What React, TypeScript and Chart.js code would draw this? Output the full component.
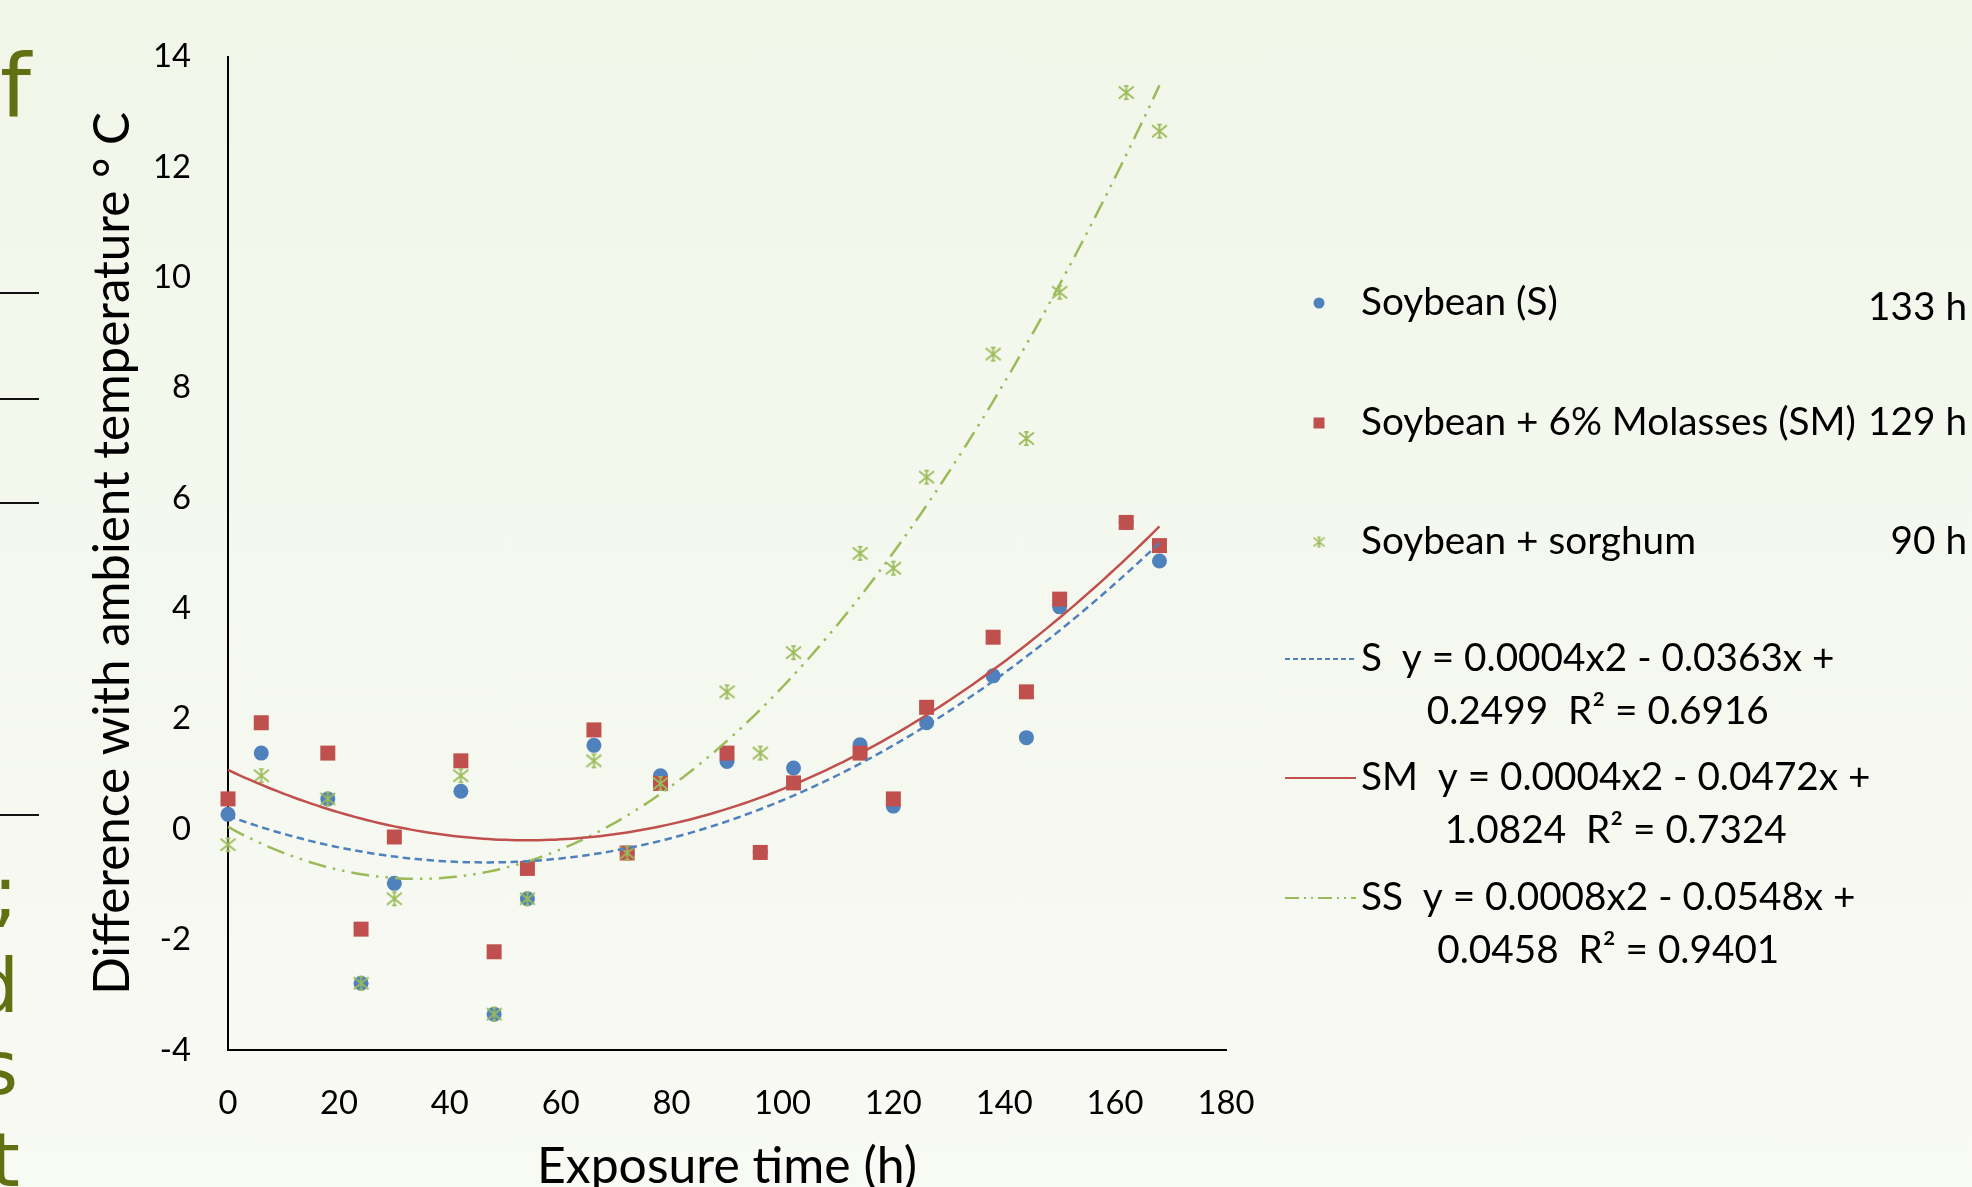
import React, { useEffect, useRef } from "react";
import { Chart, registerables } from "chart.js";

Chart.register(...registerables);

// ---------- data ----------
const HOURS = [0, 6, 18, 24, 30, 42, 48, 54, 66, 72, 78, 90, 96, 102, 114, 120, 126, 138, 144, 150, 162, 168];
const SOYBEAN_S = [0.27, 1.38, 0.55, -2.79, -0.98, 0.69, -3.35, -1.26, 1.52, -0.43, 0.97, 1.23, -0.42, 1.11, 1.53, 0.42, 1.93, 2.78, 1.66, 4.03, 5.56, 4.86];
const SOYBEAN_SM = [0.55, 1.93, 1.38, -1.81, -0.14, 1.24, -2.22, -0.71, 1.8, -0.43, 0.83, 1.38, -0.42, 0.84, 1.38, 0.55, 2.21, 3.48, 2.49, 4.17, 5.56, 5.14];
const SOYBEAN_SS = [-0.28, 0.97, 0.55, -2.79, -1.26, 0.97, -3.35, -1.26, 1.24, -0.43, 0.83, 2.49, 1.38, 3.2, 5.0, 4.73, 6.38, 8.61, 7.08, 9.73, 13.35, 12.65];

const X_MIN = 0;
const X_MAX = 180;
const X_STEP = 20;
const Y_MIN = -4;
const Y_MAX = 14;
const Y_STEP = 2;

const SERIES_LABELS = ["Soybean (S)", "Soybean + 6% Molasses (SM)", "Soybean + sorghum"];
const SERIES_HOURS = ["133 h", "129 h", "90 h"];
const TREND_LINE1 = ["S  y = 0.0004x2 - 0.0363x +", "SM  y = 0.0004x2 - 0.0472x +", "SS  y = 0.0008x2 - 0.0548x +"];
const TREND_LINE2 = ["0.2499  R\u00B2 = 0.6916", "1.0824  R\u00B2 = 0.7324", "0.0458  R\u00B2 = 0.9401"];

const X_TITLE = "Exposure time (h)";
const Y_TITLE = "Difference with ambient temperature \u00B0 C";

// ---------- styling ----------
const PAGE_W = 1972;
const PAGE_H = 1187;
const CANVAS_H = 1240;
const BLUE = "#4F81BD";
const RED = "#C0504D";
const GREEN = "#9BBB59";
const FONT = "Lato, 'Open Sans', sans-serif";
const OLIVE = "#627014";

function fitFont(text: string, width: number): number {
  const c = document.createElement("canvas").getContext("2d")!;
  c.font = `100px ${FONT}`;
  return (100 * width) / c.measureText(text).width;
}

function quadFit(xs: number[], ys: number[]): [number, number, number] {
  let s0 = 0, s1 = 0, s2 = 0, s3 = 0, s4 = 0, t0 = 0, t1 = 0, t2 = 0;
  xs.forEach((x, i) => {
    const y = ys[i];
    s0 += 1; s1 += x; s2 += x * x; s3 += x * x * x; s4 += x * x * x * x;
    t0 += y; t1 += x * y; t2 += x * x * y;
  });
  const M = [
    [s0, s1, s2, t0],
    [s1, s2, s3, t1],
    [s2, s3, s4, t2],
  ];
  for (let i = 0; i < 3; i++) {
    let p = i;
    for (let r = i + 1; r < 3; r++) if (Math.abs(M[r][i]) > Math.abs(M[p][i])) p = r;
    [M[i], M[p]] = [M[p], M[i]];
    for (let r = 0; r < 3; r++) {
      if (r === i) continue;
      const f = M[r][i] / M[i][i];
      for (let k = i; k < 4; k++) M[r][k] -= f * M[i][k];
    }
  }
  const c = M[0][3] / M[0][0];
  const b = M[1][3] / M[1][1];
  const a = M[2][3] / M[2][2];
  return [a, b, c];
}

function makeStar(size: number, color: string, lw: number): HTMLCanvasElement {
  const cv = document.createElement("canvas");
  cv.width = size;
  cv.height = size;
  const g = cv.getContext("2d")!;
  g.strokeStyle = color;
  g.lineWidth = lw;
  g.lineCap = "butt";
  const m = size / 2;
  const r = size / 2 - 1;
  g.beginPath();
  g.moveTo(m, m - r); g.lineTo(m, m + r);
  g.moveTo(m - r, m - r * 0.8); g.lineTo(m + r, m + r * 0.8);
  g.moveTo(m + r, m - r * 0.8); g.lineTo(m - r, m + r * 0.8);
  g.moveTo(m - r * 0.3, m - r + lw / 2); g.lineTo(m + r * 0.3, m - r + lw / 2);
  g.moveTo(m - r * 0.3, m + r - lw / 2); g.lineTo(m + r * 0.3, m + r - lw / 2);
  g.stroke();
  return cv;
}

const DASH_S = [7.5, 4.5];
const DASH_SS = [18, 7, 2.5, 7, 2.5, 7];

export default function App() {
  const ref = useRef<HTMLCanvasElement>(null);

  useEffect(() => {
    const canvas = ref.current!;
    const tickSize = fitFont("100", 57);
    const xTitleSize = fitFont(X_TITLE, 380);
    const yTitleSize = fitFont(Y_TITLE, 883);
    const legendSize = fitFont(SERIES_LABELS[1], 495);
    const star = makeStar(17, GREEN, 1.8);
    const starSmall = makeStar(13, GREEN, 1.5);

    const series = [SOYBEAN_S, SOYBEAN_SM, SOYBEAN_SS];
    const fits = series.map((ys) => quadFit(HOURS, ys));
    const xs: number[] = [];
    for (let x = HOURS[0]; x <= HOURS[HOURS.length - 1]; x += 1) xs.push(x);
    const trend = fits.map(([a, b, c]) => xs.map((x) => ({ x, y: a * x * x + b * x + c })));
    const pts = (ys: number[]) => HOURS.map((x, i) => ({ x, y: ys[i] }));

    const legendPlugin = {
      id: "customLegend",
      afterDraw(chart: any) {
        const ctx: CanvasRenderingContext2D = chart.ctx;
        ctx.save();
        const markX = 1319;
        const textX = 1361;
        const rightX = 1967;
        const rowY = [303, 423, 542];
        const hourDy = [5, 0, 0];
        ctx.font = `${legendSize}px ${FONT}`;
        ctx.textBaseline = "middle";
        ctx.fillStyle = BLUE;
        ctx.beginPath();
        ctx.arc(markX, rowY[0], 5.5, 0, Math.PI * 2);
        ctx.fill();
        ctx.fillStyle = RED;
        ctx.fillRect(markX - 5.5, rowY[1] - 5.5, 11, 11);
        ctx.drawImage(starSmall, markX - 6.5, rowY[2] - 6.5);
        ctx.fillStyle = "#000";
        for (let i = 0; i < 3; i++) {
          ctx.textAlign = "left";
          ctx.fillText(SERIES_LABELS[i], textX, rowY[i]);
          ctx.textAlign = "right";
          ctx.fillText(SERIES_HOURS[i], rightX, rowY[i] + hourDy[i]);
        }
        const trendY = [659, 778, 898];
        const colors = [BLUE, RED, GREEN];
        const dashes = [[5, 3], [], [14, 5, 2, 5, 2, 5]];
        for (let i = 0; i < 3; i++) {
          ctx.strokeStyle = colors[i];
          ctx.lineWidth = 2;
          ctx.setLineDash(dashes[i]);
          ctx.beginPath();
          ctx.moveTo(1285, trendY[i]);
          ctx.lineTo(1356, trendY[i]);
          ctx.stroke();
          ctx.setLineDash([]);
          ctx.fillStyle = "#000";
          ctx.textAlign = "left";
          ctx.fillText(TREND_LINE1[i], textX, trendY[i]);
          const w = ctx.measureText(TREND_LINE1[i]).width;
          ctx.textAlign = "center";
          ctx.fillText(TREND_LINE2[i], textX + w / 2, trendY[i] + 53);
        }
        ctx.restore();
      },
    };

    const chart = new Chart(canvas, {
      type: "scatter",
      data: {
        datasets: [
          {
            label: "S trend", data: trend[0], showLine: true, pointRadius: 0,
            borderColor: BLUE, borderWidth: 2.5, borderDash: DASH_S, order: 0, clip: false,
          },
          {
            label: "SM trend", data: trend[1], showLine: true, pointRadius: 0,
            borderColor: RED, borderWidth: 2.5, order: 1, clip: false,
          },
          {
            label: "SS trend", data: trend[2], showLine: true, pointRadius: 0,
            borderColor: GREEN, borderWidth: 2.5, borderDash: DASH_SS, order: 2, clip: false,
          },
          {
            label: SERIES_LABELS[2], data: pts(SOYBEAN_SS), showLine: false,
            pointStyle: star as any, pointRadius: 8, order: 3, clip: false,
          },
          {
            label: SERIES_LABELS[1], data: pts(SOYBEAN_SM), showLine: false,
            pointStyle: "rect", pointRadius: 10.6, pointBackgroundColor: RED,
            pointBorderColor: RED, pointBorderWidth: 0, order: 4, clip: false,
          },
          {
            label: SERIES_LABELS[0], data: pts(SOYBEAN_S), showLine: false,
            pointStyle: "circle", pointRadius: 7.5, pointBackgroundColor: BLUE,
            pointBorderColor: BLUE, pointBorderWidth: 0, order: 5, clip: false,
          },
        ] as any,
      },
      options: {
        responsive: false,
        animation: false,
        events: [],
        layout: { padding: { top: 55, right: PAGE_W - 1226, bottom: 0, left: 0 } },
        plugins: { legend: { display: false }, tooltip: { enabled: false } },
        scales: {
          x: {
            type: "linear",
            min: X_MIN,
            max: X_MAX,
            ticks: {
              stepSize: X_STEP,
              color: "#000",
              font: { family: FONT, size: tickSize, lineHeight: 1.2 },
              padding: 53 - tickSize * 0.6,
              maxRotation: 0,
              autoSkip: false,
            },
            grid: { display: false, drawTicks: false },
            border: { display: true, color: "#000", width: 2 },
            title: {
              display: true,
              text: X_TITLE,
              color: "#000",
              font: { family: FONT, size: xTitleSize, lineHeight: 1.2 },
              padding: { top: 0, bottom: 73 - xTitleSize * 0.6 },
            },
            afterFit: (s: any) => { s.height = CANVAS_H - 1050; },
          },
          y: {
            type: "linear",
            min: Y_MIN,
            max: Y_MAX,
            ticks: {
              stepSize: Y_STEP,
              color: "#000",
              font: { family: FONT, size: tickSize, lineHeight: 1.2 },
              padding: 37,
            },
            grid: { display: false, drawTicks: false },
            border: { display: true, color: "#000", width: 2 },
            title: {
              display: true,
              text: Y_TITLE,
              color: "#000",
              font: { family: FONT, size: yTitleSize, lineHeight: 1.2 },
              padding: { top: 113 - yTitleSize * 0.6, bottom: 0 },
            },
            afterFit: (s: any) => { s.width = 228; },
          },
        },
      } as any,
      plugins: [legendPlugin],
    });
    return () => chart.destroy();
  }, []);

  const sideText = (text: string, right: number, baseline: number, size: number) => (
    <div
      style={{
        position: "absolute",
        right: PAGE_W - right,
        top: baseline - size * 0.846,
        fontFamily: "'DejaVu Sans', sans-serif",
        fontSize: size,
        lineHeight: `${size}px`,
        color: OLIVE,
        whiteSpace: "nowrap",
        textAlign: "right",
      }}
    >
      {text}
    </div>
  );
  const rule = (y: number) => (
    <div style={{ position: "absolute", left: 0, top: y - 1, width: 39, height: 2, background: "#111" }} />
  );

  return (
    <div
      style={{
        position: "fixed",
        left: 0,
        top: 0,
        width: PAGE_W,
        height: PAGE_H,
        overflow: "hidden",
        background: "linear-gradient(#F2F6E9, #F8FAF4)",
      }}
    >
      {sideText("of", 31, 116, 88)}
      {rule(293)}
      {rule(399)}
      {rule(503)}
      {rule(815)}
      {sideText("g;", 18, 918, 75)}
      {sideText("nd", 19, 1012, 75)}
      {sideText("ns", 18, 1094, 75)}
      {sideText("nt", 20, 1186, 75)}
      <canvas
        ref={ref}
        width={PAGE_W}
        height={CANVAS_H}
        style={{ position: "absolute", left: 0, top: 0, width: PAGE_W, height: CANVAS_H }}
      />
    </div>
  );
}
